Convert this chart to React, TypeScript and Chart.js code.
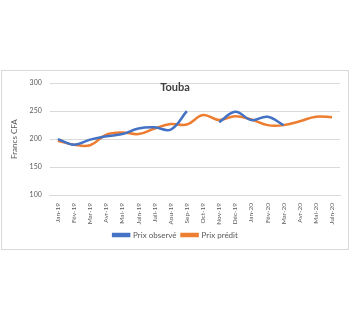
import React, { useEffect, useRef } from "react";
import { Chart, registerables } from "chart.js";

Chart.register(...registerables);

const months = [
  "Jan-19", "Fév-19", "Mar-19", "Avr-19", "Mai-19", "Juin-19", "Juil-19", "Aou-19", "Sep-19",
  "Oct-19", "Nov-19", "Déc-19", "Jan-20", "Fév-20", "Mar-20", "Avr-20", "Mai-20", "Juin-20",
];
const observed: (number | null)[] = [200, 190, 199, 205, 209, 219, 221, 217, 250, null, 230, 249, 234, 240, 225, null, null, null];
const predicted: number[] = [197, 190, 189, 208, 212, 209, 219, 227, 226, 243, 234, 241, 235, 225, 225, 232, 240, 239];
const yTicks = [100, 150, 200, 250, 300];
const chartTitle = "Touba";
const yTitle = "Francs CFA";

const FONT = "Lato, 'Open Sans', sans-serif";

const titlePlugin = {
  id: "insideTitle",
  afterDraw(chart: any) {
    const ctx = chart.ctx;
    ctx.save();
    ctx.font = `bold 11px ${FONT}`;
    ctx.fillStyle = "#404040";
    ctx.textAlign = "center";
    ctx.textBaseline = "middle";
    ctx.fillText(chartTitle, chart.width / 2, 16);
    ctx.restore();
  },
};

export default function App() {
  const ref = useRef<HTMLCanvasElement>(null);
  useEffect(() => {
    if (!ref.current) return;
    const chart = new Chart(ref.current, {
      type: "line",
      data: {
        labels: months,
        datasets: [
          {
            label: "Prix observé",
            data: observed,
            borderColor: "#4472C4",
            backgroundColor: "#4472C4",
            borderWidth: 2.5,
            pointRadius: 0,
            tension: 0.4,
            spanGaps: false,
          },
          {
            label: "Prix prédit",
            data: predicted,
            borderColor: "#ED7D31",
            backgroundColor: "#ED7D31",
            borderWidth: 2.5,
            pointRadius: 0,
            tension: 0.4,
          },
        ],
      },
      options: {
        animation: false,
        responsive: true,
        maintainAspectRatio: false,
        layout: { padding: { top: 8, right: 7, left: 8, bottom: 0 } },
        plugins: {
          title: { display: false },
          tooltip: { enabled: false },
          legend: {
            position: "bottom",
            labels: {
              boxWidth: 16,
              boxHeight: 2,
              padding: 5,
              color: "#595959",
              font: { family: FONT, size: 8 },
            },
          },
        },
        scales: {
          x: {
            offset: true,
            grid: { display: false, drawTicks: false },
            border: { display: true, color: "#d9d9d9" },
            afterFit: (s: any) => {
              s.height = 31;
            },
            ticks: {
              minRotation: 90,
              maxRotation: 90,
              autoSkip: false,
              padding: 8,
              color: "#595959",
              font: { family: FONT, size: 6.5 },
            },
          },
          y: {
            min: 100,
            max: 300,
            afterBuildTicks: (s: any) => {
              s.ticks = yTicks.map((v) => ({ value: v }));
            },
            grid: { color: "#d9d9d9", drawTicks: false },
            border: { display: false },
            ticks: {
              padding: 8,
              color: "#595959",
              font: { family: FONT, size: 7 },
            },
            title: {
              display: true,
              text: yTitle,
              color: "#595959",
              font: { family: FONT, size: 8 },
              padding: { top: 0, bottom: 2 },
            },
          },
        },
      },
      plugins: [titlePlugin],
    });
    return () => chart.destroy();
  }, []);

  return (
    <div style={{ position: "absolute", left: 0, top: 0, width: 350, height: 322, background: "#fff" }}>
      <div
        style={{
          position: "absolute",
          left: 1,
          top: 70,
          width: 346,
          height: 178,
          border: "1px solid #d9d9d9",
        }}
      >
        <canvas ref={ref} />
      </div>
    </div>
  );
}
